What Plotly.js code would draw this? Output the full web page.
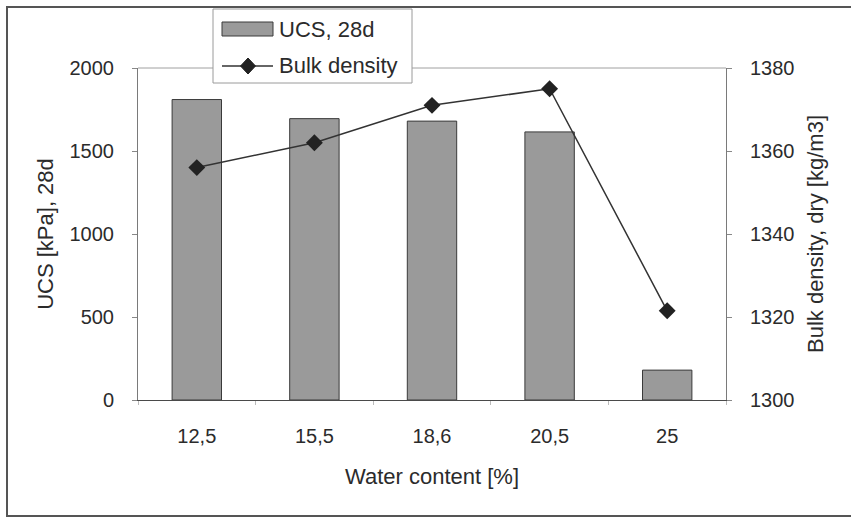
<!DOCTYPE html>
<html>
<head>
<meta charset="utf-8">
<script src="https://cdn.plot.ly/plotly-3.0.1.min.js"></script>
<style>
  html, body { margin: 0; padding: 0; background: #fff; }
  #chart { width: 851px; height: 518px; }
</style>
</head>
<body>
<div id="chart"></div>
<script>
// Water content categories (x axis labels)
const waterContent = ['12,5', '15,5', '18,6', '20,5', '25'];
// Unconfined compressive strength after 28 days [kPa]
const ucs28d = [1810, 1695, 1680, 1615, 180];
// Dry bulk density [kg/m3]
const bulkDensityDry = [1356, 1362, 1371, 1375, 1321.5];
// Legend entries
const legendLabels = ['UCS, 28d', 'Bulk density'];

const FONT = 'Liberation Sans, Arial, sans-serif';
const TXT = '#2b2b2b';
const BAR_FILL = '#9a9a9a';
const BAR_EDGE = '#3a3a3a';
const LINE_COL = '#333';

// plot area in pixels
const W = 851, H = 518;
const L = 138, R = 726, T = 68, B = 400;
const pw = R - L, ph = B - T;
const px = v => (v - L) / pw;
const py = v => (B - v) / ph;

const ucsTrace = {
  type: 'bar',
  name: legendLabels[0],
  x: waterContent,
  y: ucs28d,
  width: 0.42,
  marker: { color: BAR_FILL, line: { color: BAR_EDGE, width: 1 } },
  yaxis: 'y'
};

const densityTrace = {
  type: 'scatter',
  mode: 'lines+markers',
  name: legendLabels[1],
  x: waterContent,
  y: bulkDensityDry,
  yaxis: 'y2',
  line: { color: LINE_COL, width: 1.5 },
  marker: { symbol: 'diamond', size: 13, color: '#222' }
};

// hand-built legend box so the bar key can be a wide swatch
const legendShapes = [
  { type: 'rect', xref: 'paper', yref: 'paper',
    x0: px(213), x1: px(412), y0: py(83), y1: py(9),
    line: { color: '#9a9a9a', width: 1 }, fillcolor: '#fff', layer: 'above' },
  { type: 'rect', xref: 'paper', yref: 'paper',
    x0: px(222), x1: px(273), y0: py(36), y1: py(22),
    line: { color: BAR_EDGE, width: 1 }, fillcolor: BAR_FILL, layer: 'above' },
  { type: 'line', xref: 'paper', yref: 'paper',
    x0: px(222), x1: px(273), y0: py(66), y1: py(66),
    line: { color: LINE_COL, width: 1.5 }, layer: 'above' },
  { type: 'path', xref: 'paper', yref: 'paper',
    path: `M ${px(248)},${py(58)} L ${px(255.5)},${py(66)} L ${px(248)},${py(74)} L ${px(240.5)},${py(66)} Z`,
    line: { color: '#222', width: 1 }, fillcolor: '#222', layer: 'above' }
];

const legendAnnotations = [
  { text: legendLabels[0], y: py(29) },
  { text: legendLabels[1], y: py(65) }
].map(a => ({
  xref: 'paper', yref: 'paper', x: px(277), y: a.y,
  xanchor: 'left', yanchor: 'middle', showarrow: false,
  text: a.text, font: { family: FONT, size: 22, color: TXT }
}));

const layout = {
  width: W,
  height: H,
  margin: { l: L, r: W - R, t: T, b: H - B, pad: 0 },
  paper_bgcolor: '#fff',
  plot_bgcolor: '#fff',
  font: { family: FONT, size: 20, color: TXT },
  showlegend: false,
  xaxis: {
    type: 'category',
    range: [-0.5, 4.5],
    showline: true, linecolor: '#4a4a4a', linewidth: 1,
    ticks: 'outside', tickson: 'boundaries', ticklen: 4, tickcolor: '#bbb',
    tickfont: { family: FONT, size: 20, color: TXT },
    ticklabelstandoff: 18,
    showgrid: false, zeroline: false,
    title: { text: 'Water content [%]', font: { family: FONT, size: 22, color: TXT }, standoff: 22 },
    automargin: false
  },
  yaxis: {
    range: [0, 2000],
    tickvals: [0, 500, 1000, 1500, 2000],
    showline: true, linecolor: '#7a7a7a', linewidth: 1,
    ticks: 'outside', ticklen: 5, tickcolor: '#888',
    tickfont: { family: FONT, size: 20, color: TXT },
    ticklabelstandoff: 14,
    showgrid: false, zeroline: false,
    title: { text: 'UCS [kPa], 28d', font: { family: FONT, size: 22, color: TXT }, standoff: 9 },
    automargin: false
  },
  yaxis2: {
    overlaying: 'y',
    side: 'right',
    range: [1300, 1380],
    tickvals: [1300, 1320, 1340, 1360, 1380],
    showline: true, linecolor: '#7a7a7a', linewidth: 1,
    ticks: 'outside', ticklen: 5, tickcolor: '#888',
    tickfont: { family: FONT, size: 20, color: TXT },
    ticklabelstandoff: 14,
    showgrid: false, zeroline: false,
    title: { text: 'Bulk density, dry [kg/m3]', font: { family: FONT, size: 22, color: TXT }, standoff: 14 },
    automargin: false
  },
  shapes: [
    // top edge of the plot area
    { type: 'line', xref: 'paper', yref: 'paper', x0: 0, x1: 1, y0: 1, y1: 1,
      line: { color: '#a0a0a0', width: 1 }, layer: 'below' },
    // chart frame
    { type: 'rect', xref: 'paper', yref: 'paper',
      x0: px(7), x1: px(856), y0: py(516), y1: py(7),
      line: { color: '#555', width: 2 }, fillcolor: 'rgba(0,0,0,0)', layer: 'below' }
  ].concat(legendShapes),
  annotations: legendAnnotations
};

Plotly.newPlot('chart', [ucsTrace, densityTrace], layout, { staticPlot: true, displayModeBar: false });
</script>
</body>
</html>
